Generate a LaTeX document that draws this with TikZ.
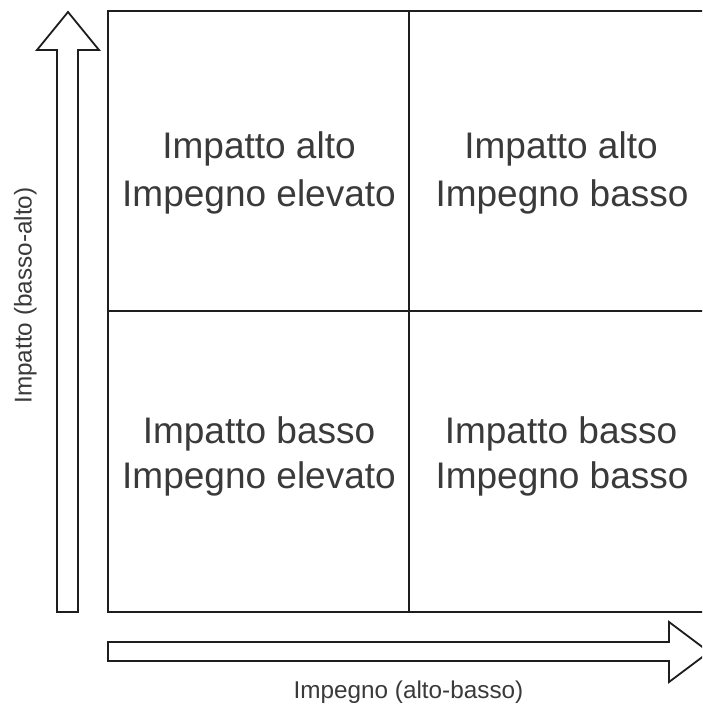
\documentclass[tikz,border=0pt]{standalone}
\usepackage{fontspec}
\setmainfont{Liberation Sans}
\definecolor{linec}{HTML}{1E1E1E}
\definecolor{textc}{HTML}{3A3A3A}
\tikzset{
  gridline/.style={draw=linec, line width=1.8pt},
  bigarrow/.style={draw=linec, line width=1.8pt, fill=white, line join=miter},
  celltext/.style={font=\fontsize{37}{37}\selectfont, text=textc, anchor=base, inner sep=0pt},
  axistext/.style={font=\fontsize{24.3}{24.3}\selectfont, text=textc, anchor=base, inner sep=0pt}
}
\begin{document}
\begin{tikzpicture}[x=1pt,y=-1pt]
\useasboundingbox (0,0) rectangle (702,706);
\clip (0,0) rectangle (702,706);
\fill[white] (0,0) rectangle (702,706);
% grid
\coordinate (tl) at (108,11);
\coordinate (bl) at (108,612);
\draw[gridline] (704,11) -- (tl) -- (bl) -- (704,612);
\draw[gridline] (409,11) -- (409,612);
\draw[gridline] (108,311) -- (704,311);
% vertical arrow
\draw[bigarrow] (57,612) -- (57,50) -- (37,50) -- (68,12) -- (99,50) -- (78,50) -- (78,612) -- cycle;
% horizontal arrow
\draw[bigarrow] (108,642) -- (669,642) -- (669,622) -- (709,652) -- (669,682) -- (669,661) -- (108,661) -- cycle;
% cell texts
\node[celltext] (q1a) at (259,158) {Impatto alto};
\node[celltext] (q1b) at (259,206) {Impegno elevato};
\node[celltext] (q2a) at (561,158) {Impatto alto};
\node[celltext] (q2b) at (562,206) {Impegno basso};
\node[celltext] (q3a) at (259,443) {Impatto basso};
\node[celltext] (q3b) at (259,488) {Impegno elevato};
\node[celltext] (q4a) at (561,443) {Impatto basso};
\node[celltext] (q4b) at (562,488) {Impegno basso};
% axis labels
\node[axistext] (xlab) at (408.5,698) {Impegno (alto-basso)};
\node[axistext, rotate=90] (ylab) at (31.5,295.5) {Impatto (basso-alto)};
\end{tikzpicture}
\end{document}
